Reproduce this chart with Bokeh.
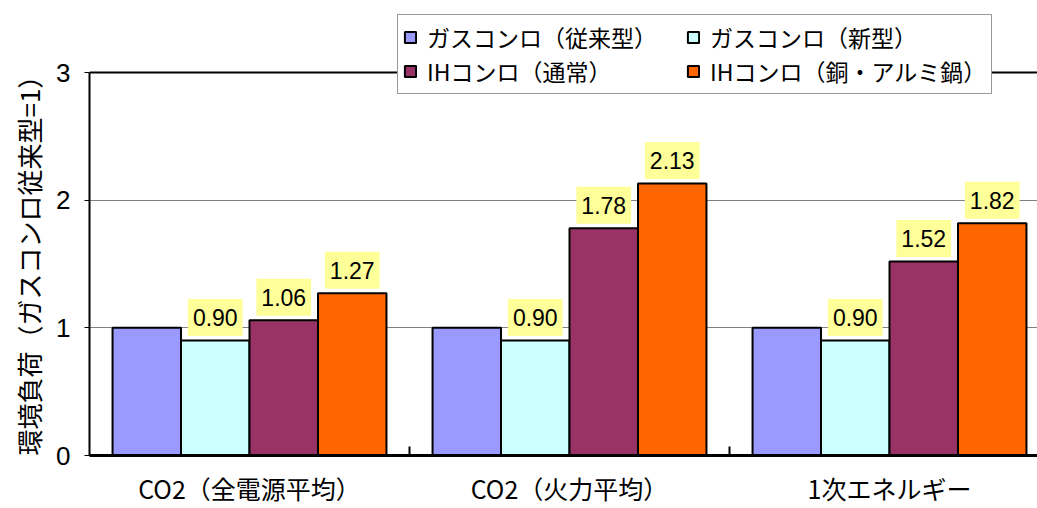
import numpy as np
from bokeh.plotting import figure
from bokeh.models import (ColumnDataSource, Range1d, FixedTicker, Legend,
                          LegendItem, Span, Title)
from bokeh.transform import dodge
from bokeh.core.properties import value
from bokeh.embed import file_html
from bokeh.resources import INLINE

# ---- data -------------------------------------------------------------
categories = ["CO2（全電源平均）", "CO2（火力平均）", "1次エネルギー"]
series_names = ["ガスコンロ（従来型）", "ガスコンロ（新型）",
                "IHコンロ（通常）", "IHコンロ（銅・アルミ鍋）"]
gas_conventional = [1.00, 1.00, 1.00]
gas_new = [0.90, 0.90, 0.90]
ih_standard = [1.06, 1.78, 1.52]
ih_copper_alu = [1.27, 2.13, 1.82]
y_ticks = [0, 1, 2, 3]
y_title = "環境負荷（ガスコンロ従来型=1）"

# ---- styling ----------------------------------------------------------
colors = ["#9999FF", "#CCFFFF", "#993366", "#FF6600"]
label_bg = "#FFFF99"
jp_font = "Noto Sans CJK JP"
num_font = "Liberation Sans"
bar_w = 0.214
offsets = [-1.5 * bar_w, -0.5 * bar_w, 0.5 * bar_w, 1.5 * bar_w]
# the frame reaches the top of the canvas so the legend can sit above y = 3
y_top = 3.564

series_values = [gas_conventional, gas_new, ih_standard, ih_copper_alu]
cols = ["s0", "s1", "s2", "s3"]

data = {"x": np.arange(len(categories)) + 0.5}
for c, vals in zip(cols, series_values):
    data[c] = vals
    data[c + "_lbl"] = [f"{v:.2f}" for v in vals]
src = ColumnDataSource(data)

p = figure(width=1037, height=508, output_backend="svg", toolbar_location=None,
           x_range=Range1d(0, 2.9625), y_range=Range1d(0, y_top),
           min_border_left=89, min_border_right=0, min_border_top=0,
           min_border_bottom=53)
p.outline_line_color = None
p.background_fill_color = "white"
p.border_fill_color = "white"

renderers = []
for i, c in enumerate(cols):
    r = p.vbar(x=dodge("x", offsets[i], range=p.x_range), top=c, width=bar_w,
               source=src, fill_color=colors[i], line_color="black",
               line_width=2)
    renderers.append(r)

# value labels on a yellow box above the bars (not for the reference series)
for i, c in enumerate(cols[1:], start=1):
    p.text(x=dodge("x", offsets[i], range=p.x_range), y=c, text=c + "_lbl",
           source=src, text_align="center", text_baseline="middle",
           y_offset=-23, text_font=value(num_font), text_font_size="23px",
           text_color="black", background_fill_color=label_bg,
           padding=(5, 10))

# top frame line at y = 3
p.add_layout(Span(location=3, dimension="width", line_color="black",
                  line_width=2))

# y axis
p.yaxis.ticker = FixedTicker(ticks=y_ticks)
p.yaxis.bounds = (0, 3)
p.yaxis.axis_line_width = 2
p.yaxis.axis_line_color = "black"
p.yaxis.major_tick_out = 5
p.yaxis.major_tick_in = 0
p.yaxis.minor_tick_line_color = None
p.yaxis.major_label_text_font = num_font
p.yaxis.major_label_text_font_size = "26px"
p.yaxis.major_label_text_color = "black"
p.yaxis.major_label_standoff = 14

# vertical title, running up from the baseline
p.add_layout(Title(text=y_title, align="left", offset=0, standoff=10,
                   vertical_align="top",
                   text_font=jp_font, text_font_size="26px",
                   text_font_style="normal", text_color="black"), "left")

# x axis: labels at category centres, small inner ticks between categories
p.xaxis.ticker = FixedTicker(ticks=list(np.arange(len(categories)) + 0.5),
                             minor_ticks=list(range(1, len(categories))))
p.xaxis.major_label_overrides = {float(k + 0.5): c for k, c in enumerate(categories)}
p.xaxis.major_tick_line_color = None
p.xaxis.major_tick_out = 0
p.xaxis.major_tick_in = 0
p.xaxis.minor_tick_in = 9
p.xaxis.minor_tick_out = 0
p.xaxis.minor_tick_line_color = "black"
p.xaxis.minor_tick_line_width = 2
p.xaxis.axis_line_width = 3
p.xaxis.axis_line_color = "black"
p.xaxis.major_label_text_font = jp_font
p.xaxis.major_label_text_font_size = "25px"
p.xaxis.major_label_text_color = "black"
p.xaxis.major_label_standoff = 14

p.xgrid.grid_line_color = None
p.ygrid.ticker = FixedTicker(ticks=[1, 2])
p.ygrid.grid_line_color = "#808080"
p.ygrid.grid_line_width = 1

legend = Legend(
    items=[LegendItem(label=n, renderers=[r]) for n, r in zip(series_names, renderers)],
    location=(308, 361), orientation="horizontal", ncols=2,
    label_text_font=jp_font, label_text_font_size="23px",
    label_text_color="black", glyph_width=14, glyph_height=14,
    label_standoff=10, label_width=259, label_height=26, spacing=0,
    padding=5, margin=0, border_line_color="#333333", border_line_width=1,
    background_fill_color="white", background_fill_alpha=1.0)
p.add_layout(legend, "center")

open("out.html", "w").write(file_html(p, INLINE))
